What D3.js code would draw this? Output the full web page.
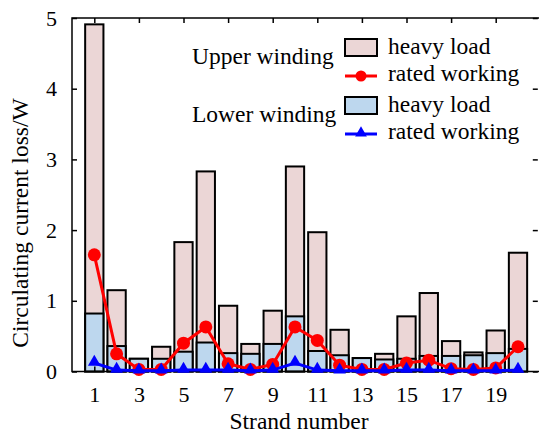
<!DOCTYPE html>
<html>
<head>
<meta charset="utf-8">
<script src="https://cdn.jsdelivr.net/npm/d3@7"></script>
<style>
  body { margin: 0; background: #fff; }
  svg { display: block; font-family: "Liberation Serif", "Times New Roman", serif; }
</style>
</head>
<body>
<svg id="chart" width="539" height="433"></svg>
<script>
// strand numbers and losses (W)
const strands = d3.range(1, 21);
const upperHeavy = [4.91, 1.15, 0.18, 0.35, 1.83, 2.83, 0.93, 0.39, 0.86, 2.90,
                    1.97, 0.59, 0.19, 0.25, 0.78, 1.11, 0.43, 0.27, 0.58, 1.68];
const lowerHeavy = [0.82, 0.36, 0.18, 0.18, 0.28, 0.41, 0.26, 0.25, 0.39, 0.78,
                    0.29, 0.23, 0.19, 0.17, 0.18, 0.22, 0.22, 0.23, 0.26, 0.32];
const upperRated = [1.65, 0.25, 0.03, 0.03, 0.40, 0.63, 0.11, 0.03, 0.10, 0.63,
                    0.44, 0.09, 0.03, 0.03, 0.12, 0.16, 0.04, 0.03, 0.05, 0.35];
const lowerRated = [0.12, 0.02, 0.01, 0.01, 0.02, 0.02, 0.02, 0.01, 0.02, 0.12,
                    0.02, 0.01, 0.01, 0.01, 0.02, 0.02, 0.01, 0.01, 0.01, 0.02];
const xTicks = [1, 3, 5, 7, 9, 11, 13, 15, 17, 19];
const yTicks = [0, 1, 2, 3, 4, 5];

const pink = '#ebd6d6';
const lightBlue = '#bdd7ee';

const svg = d3.select('#chart');
const plotL = 72, plotR = 540.3, plotT = 18, plotB = 371.5;

const x = d3.scaleLinear().domain([0, 21]).range([plotL, plotR]);
const y = d3.scaleLinear().domain([0, 5]).range([plotB, plotT]);
const barW = (x(1) - x(0)) * 0.82;

// bars: upper winding behind, lower winding in front
svg.append('g').selectAll('rect')
    .data(strands)
    .enter().append('rect')
    .attr('x', d => x(d) - barW / 2)
    .attr('y', (d, i) => y(upperHeavy[i]))
    .attr('width', barW)
    .attr('height', (d, i) => y(0) - y(upperHeavy[i]))
    .attr('fill', pink)
    .attr('stroke', '#000')
    .attr('stroke-width', 2);

svg.append('g').selectAll('rect')
    .data(strands)
    .enter().append('rect')
    .attr('x', d => x(d) - barW / 2)
    .attr('y', (d, i) => y(lowerHeavy[i]))
    .attr('width', barW)
    .attr('height', (d, i) => y(0) - y(lowerHeavy[i]))
    .attr('fill', lightBlue)
    .attr('stroke', '#000')
    .attr('stroke-width', 2);

// axes box with inward ticks
svg.append('rect')
    .attr('x', plotL).attr('y', plotT)
    .attr('width', plotR - plotL).attr('height', plotB - plotT)
    .attr('fill', 'none').attr('stroke', '#000').attr('stroke-width', 1.5);

const tickLen = 5;
const xAxisB = d3.axisBottom(x).tickValues(xTicks).tickSize(-tickLen).tickPadding(15).tickFormat(d3.format('d'));
const xAxisT = d3.axisTop(x).tickValues(xTicks).tickSize(-tickLen).tickFormat('');
const yAxisL = d3.axisLeft(y).tickValues(yTicks).tickSize(-tickLen).tickPadding(15).tickFormat(d3.format('d'));
const yAxisR = d3.axisRight(y).tickValues(yTicks).tickSize(-tickLen).tickFormat('');

function styleAxis(g) {
    g.select('.domain').remove();
    g.selectAll('.tick line').attr('stroke', '#000').attr('stroke-width', 1.5);
    g.selectAll('.tick text')
        .attr('fill', '#000')
        .style('font-family', '"Liberation Serif", "Times New Roman", serif')
        .style('font-size', '22px');
}

svg.append('g').attr('transform', `translate(0,${plotB})`).call(xAxisB).call(styleAxis);
svg.append('g').attr('transform', `translate(0,${plotT})`).call(xAxisT).call(styleAxis);
svg.append('g').attr('transform', `translate(${plotL},0)`).call(yAxisL).call(styleAxis);
svg.append('g').attr('transform', `translate(${plotR - 2.5},0)`).call(yAxisR).call(styleAxis);

// rated working lines
const red = '#ff0000', blue = '#0000ff';
const line = vals => d3.line().x((d, i) => x(strands[i])).y(d => y(d))(vals);

svg.append('path')
    .attr('d', line(upperRated))
    .attr('fill', 'none').attr('stroke', red).attr('stroke-width', 3);
svg.append('g').selectAll('circle')
    .data(upperRated)
    .enter().append('circle')
    .attr('cx', (d, i) => x(strands[i]))
    .attr('cy', d => y(d))
    .attr('r', 6.5)
    .attr('fill', red);

const tri = d3.symbol().type(d3.symbolTriangle).size(70);
svg.append('path')
    .attr('d', line(lowerRated))
    .attr('fill', 'none').attr('stroke', blue).attr('stroke-width', 3);
svg.append('g').selectAll('path')
    .data(lowerRated)
    .enter().append('path')
    .attr('d', tri)
    .attr('transform', (d, i) => `translate(${x(strands[i])},${y(d) - 1})`)
    .attr('fill', blue);

// labels
svg.append('text')
    .attr('x', 299).attr('y', 429)
    .attr('text-anchor', 'middle')
    .style('font-size', '23.5px')
    .text('Strand number');

svg.append('text')
    .attr('transform', 'translate(28,223) rotate(-90)')
    .attr('text-anchor', 'middle')
    .style('font-size', '23.5px')
    .text('Circulating current loss/W');

// legend
const legend = svg.append('g').style('font-size', '23.5px');
const groups = [
    { title: 'Upper winding', fill: pink, color: red, marker: 'circle', y: 47 },
    { title: 'Lower winding', fill: lightBlue, color: blue, marker: 'triangle', y: 105 }
];
groups.forEach(g => {
    legend.append('text')
        .attr('x', 192).attr('y', g.y + 16.5)
        .text(g.title);
    legend.append('rect')
        .attr('x', 345).attr('y', g.y - 8)
        .attr('width', 32).attr('height', 17)
        .attr('fill', g.fill).attr('stroke', '#000').attr('stroke-width', 2);
    legend.append('text')
        .attr('x', 388).attr('y', g.y + 7)
        .text('heavy load');
    const ly = g.y + 29;
    legend.append('line')
        .attr('x1', 345).attr('x2', 377)
        .attr('y1', ly).attr('y2', ly)
        .attr('stroke', g.color).attr('stroke-width', 3);
    if (g.marker === 'circle') {
        legend.append('circle').attr('cx', 361).attr('cy', ly).attr('r', 5.5).attr('fill', g.color);
    } else {
        legend.append('path').attr('d', d3.symbol().type(d3.symbolTriangle).size(60))
            .attr('transform', `translate(361,${ly - 1})`).attr('fill', g.color);
    }
    legend.append('text')
        .attr('x', 388).attr('y', ly + 5)
        .text('rated working');
});
</script>
</body>
</html>
